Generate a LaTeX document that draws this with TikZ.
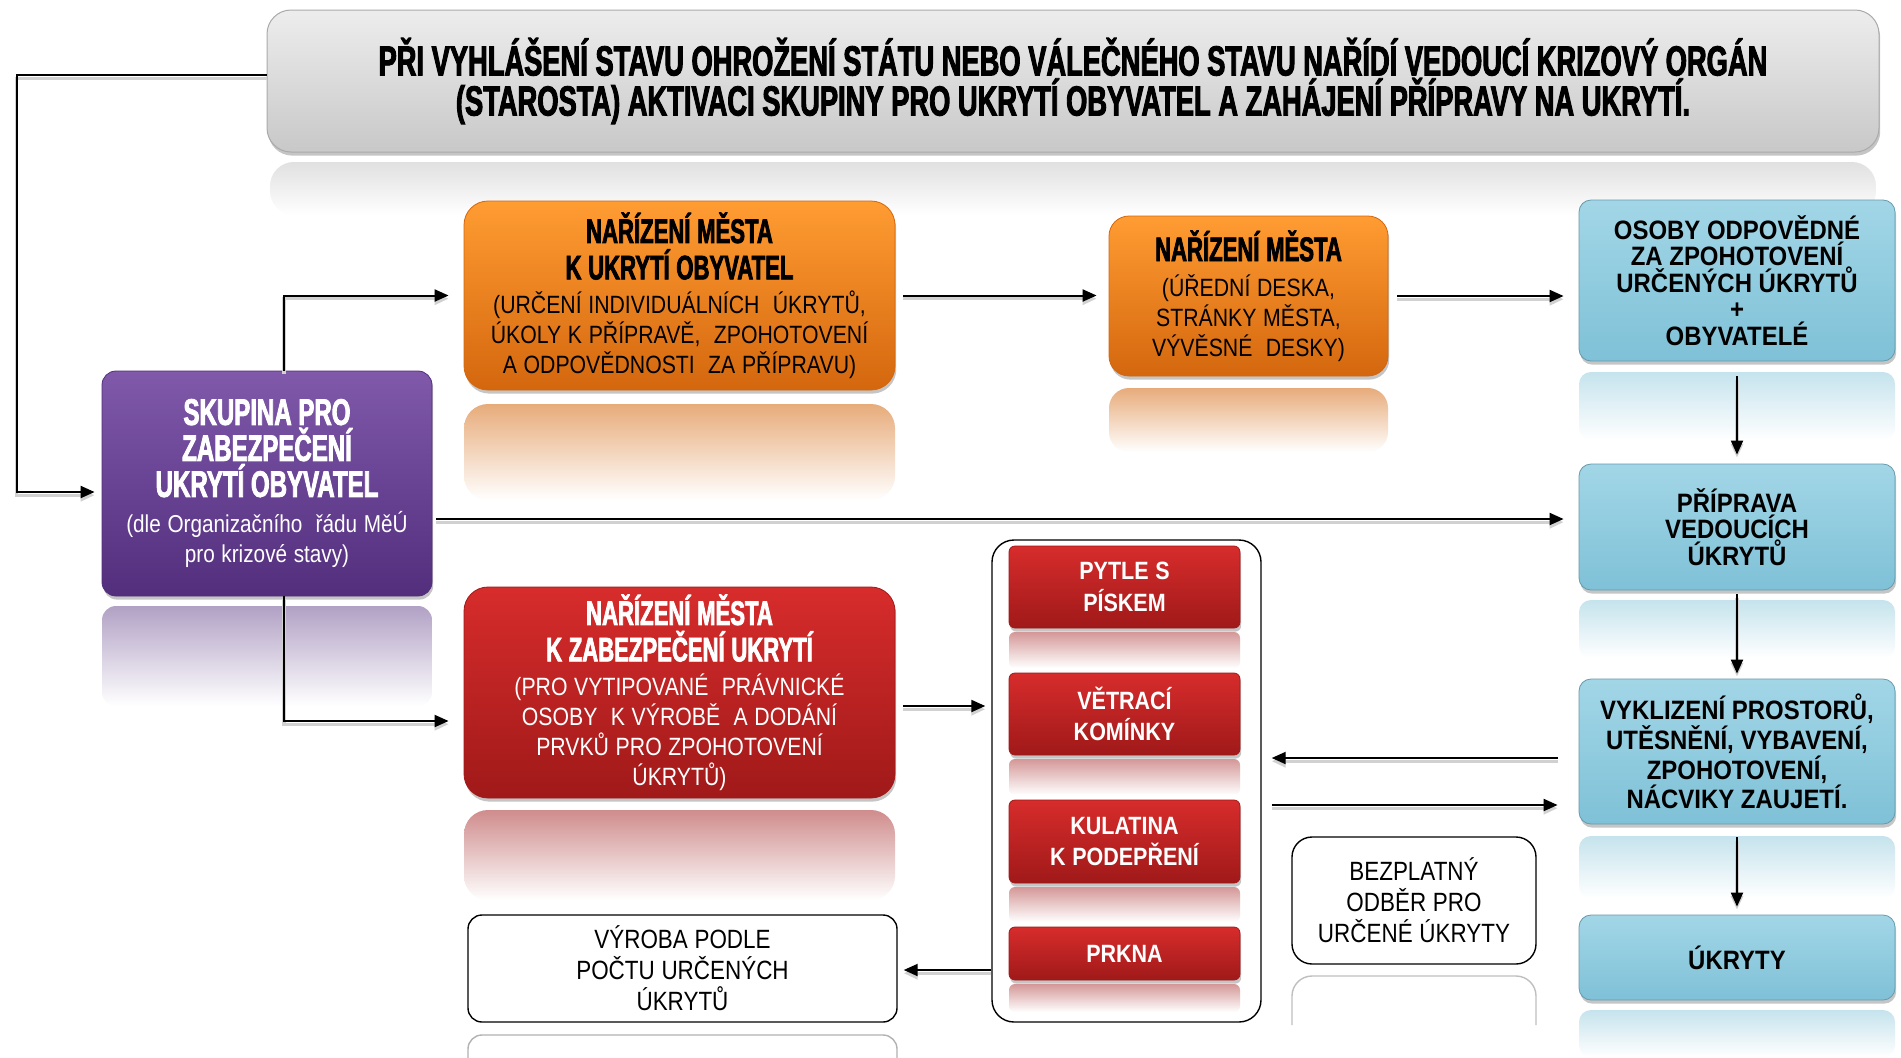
\documentclass[tikz,border=0pt]{standalone}
\usepackage{fontspec}
\setmainfont{Liberation Sans}
\usetikzlibrary{shadows,calc,arrows.meta}
\newfontfamily\heavyfont[FakeStretch=0.65,FakeBold=2.2]{Liberation Sans}
\newfontfamily\narrowfont[FakeStretch=0.85]{Liberation Sans}
\newfontfamily\bnarrowfont[FakeStretch=0.9]{Liberation Sans}
\newfontfamily\rnarrowfont[FakeStretch=0.86]{Liberation Sans}
\newcommand\HdHead{\heavyfont\bfseries\fontsize{21}{20.6}\selectfont}
\newcommand\HdBig{\heavyfont\bfseries\fontsize{18.5}{18}\selectfont}
\newcommand\HdMid{\heavyfont\bfseries\fontsize{17}{18.2}\selectfont}
\newcommand\BodyS{\narrowfont\fontsize{12.5}{15}\selectfont}
\newcommand\BodyP{\narrowfont\fontsize{12.2}{15.2}\selectfont}
\newcommand\BodyW{\narrowfont\fontsize{13.2}{15.5}\selectfont}
\newcommand\BlueT{\bnarrowfont\bfseries\fontsize{13.3}{13.2}\selectfont}
\newcommand\RedT{\rnarrowfont\bfseries\fontsize{12.5}{15.8}\selectfont}
\definecolor{hdA}{HTML}{EDEDED}
\definecolor{hdB}{HTML}{C8C8C8}
\definecolor{puA}{HTML}{8059AA}
\definecolor{puB}{HTML}{522E7D}
\definecolor{orA}{HTML}{FF9C32}
\definecolor{orB}{HTML}{D4670E}
\definecolor{blA}{HTML}{A2D6E7}
\definecolor{blB}{HTML}{7FC1D7}
\definecolor{rdA}{HTML}{D72C2C}
\definecolor{rdB}{HTML}{A01919}
\tikzset{
  every node/.style={inner sep=0pt, align=center},
  gloss/.style={drop shadow={opacity=0.45, shadow xshift=0.6pt, shadow yshift=-1.8pt}},
  hdbox/.style={gloss, rounded corners=12pt, top color=hdA, bottom color=hdB, draw=hdB!85!black, line width=0.5pt},
  pubox/.style={gloss, rounded corners=7pt, top color=puA, bottom color=puB, draw=puB, line width=0.4pt, text=white},
  orbox/.style={gloss, top color=orA, bottom color=orB, draw=orB, line width=0.4pt, text=black},
  blbox/.style={gloss, rounded corners=6pt, top color=blA, bottom color=blB, draw=blB!80!black, line width=0.4pt, text=black},
  rdbox/.style={gloss, top color=rdA, bottom color=rdB, draw=rdB, line width=0.4pt, text=white},
  wbox/.style={rounded corners=7pt, fill=white, draw=black, line width=0.7pt},
  arr/.style={draw=black, line width=1pt, -{Triangle[length=7pt,width=6pt]},
    preaction={draw=black!18, line width=1.6pt, transform canvas={yshift=-1.6pt}}},
}
\begin{document}
\begin{tikzpicture}[x=0.5pt,y=-0.5pt]
\useasboundingbox[fill=white] (0,0) rectangle (1901,1057);

% reflections
\shade[top color=black!12, bottom color=white, rounded corners=12pt] (270,162) rectangle (1876,215);
\shade[top color=puB!45!white, bottom color=white, rounded corners=7pt] (102,606) rectangle (432,706);
\shade[top color=orB!55!white, bottom color=white, rounded corners=12pt] (464,404) rectangle (895,500);
\shade[top color=orB!55!white, bottom color=white, rounded corners=10pt] (1109,388) rectangle (1388,452);
\shade[top color=rdB!50!white, bottom color=white, rounded corners=12pt] (464,810) rectangle (895,900);
\shade[top color=blB!45!white, bottom color=white, rounded corners=6pt] (1579,372) rectangle (1895,440);
\shade[top color=blB!45!white, bottom color=white, rounded corners=6pt] (1579,600) rectangle (1895,658);
\shade[top color=blB!45!white, bottom color=white, rounded corners=6pt] (1579,836) rectangle (1895,898);
\shade[top color=blB!45!white, bottom color=white, rounded corners=6pt] (1579,1010) rectangle (1895,1057);
\draw[black!30, line width=0.7pt, rounded corners=7pt] (468,1060) -- (468,1035) -- (897,1035) -- (897,1060);
\draw[black!25, line width=0.7pt, rounded corners=10pt] (1292,1025) -- (1292,976) -- (1536,976) -- (1536,1025);

% header
\node[hdbox, minimum width=806pt, minimum height=71pt] (hd) at (1073,81)
  {\HdHead PŘI VYHLÁŠENÍ STAVU OHROŽENÍ STÁTU NEBO VÁLEČNÉHO STAVU NAŘÍDÍ VEDOUCÍ KRIZOVÝ ORGÁN\\
   \HdHead (STAROSTA) AKTIVACI SKUPINY PRO UKRYTÍ OBYVATEL A ZAHÁJENÍ PŘÍPRAVY NA UKRYTÍ.};

% purple
\node[pubox, minimum width=165pt, minimum height=112.5pt, text width=160pt] (pu) at (267,483.5)
  {{\HdBig SKUPINA PRO\\ ZABEZPEČENÍ\\ UKRYTÍ OBYVATEL\par}\vskip2.6pt
   {\BodyP (dle Organizačního~ řádu MěÚ\\ pro krizové stavy)\par}};

% orange
\node[orbox, rounded corners=12pt, minimum width=215.5pt, minimum height=94.5pt, text width=212pt] (o1) at (679.5,295.5)
  {{\HdMid NAŘÍZENÍ MĚSTA\\ K UKRYTÍ OBYVATEL\par}\vskip2pt
   {\BodyS (URČENÍ INDIVIDUÁLNÍCH~ ÚKRYTŮ,\\ ÚKOLY K PŘÍPRAVĚ,~ ZPOHOTOVENÍ\\ A ODPOVĚDNOSTI~ ZA PŘÍPRAVU)\par}};
\node[orbox, rounded corners=10pt, minimum width=139.5pt, minimum height=80pt, text width=135pt] (o2) at (1248.5,296)
  {{\HdMid NAŘÍZENÍ MĚSTA\par}\vskip2.6pt
   {\BodyS (ÚŘEDNÍ DESKA,\\ STRÁNKY MĚSTA,\\ VÝVĚSNÉ~ DESKY)\par}};

% red big
\node[rdbox, rounded corners=12pt, minimum width=215.5pt, minimum height=105.5pt, text width=212pt] (rb) at (679.5,692.5)
  {{\HdMid NAŘÍZENÍ MĚSTA\\ K ZABEZPEČENÍ UKRYTÍ\par}\vskip2pt
   {\BodyS (PRO VYTIPOVANÉ~ PRÁVNICKÉ\\ OSOBY~ K VÝROBĚ~ A DODÁNÍ\\ PRVKŮ PRO ZPOHOTOVENÍ\\ ÚKRYTŮ)\par}};

% blue
\node[blbox, minimum width=158pt, minimum height=80.5pt, text width=155pt] (b1) at (1737,280.5)
  {\BlueT OSOBY ODPOVĚDNÉ\\ ZA ZPOHOTOVENÍ\\ URČENÝCH ÚKRYTŮ\\ +\\ OBYVATELÉ\par};
\node[blbox, minimum width=158pt, minimum height=63pt, text width=155pt] (b2) at (1737,527)
  {\BlueT PŘÍPRAVA\\ VEDOUCÍCH\\ ÚKRYTŮ\par};
\node[blbox, minimum width=158pt, minimum height=72.5pt, text width=155pt] (b3) at (1737,751.5)
  {\BlueT VYKLIZENÍ PROSTORŮ,\\ UTĚSNĚNÍ, VYBAVENÍ,\\ ZPOHOTOVENÍ,\\ NÁCVIKY ZAUJETÍ.\par};
\node[blbox, minimum width=158pt, minimum height=42.5pt, text width=155pt] (b4) at (1737,957.5)
  {\BlueT ÚKRYTY\par};

% white boxes
\node[wbox, minimum width=214.5pt, minimum height=53.5pt, text width=210pt] (vy) at (682.5,968.5)
  {\BodyW VÝROBA PODLE\\ POČTU URČENÝCH\\ ÚKRYTŮ\par};
\node[wbox, rounded corners=10pt, minimum width=122pt, minimum height=63.5pt, text width=118pt] (bz) at (1414,900.5)
  {\BodyW BEZPLATNÝ\\ ODBĚR PRO\\ URČENÉ ÚKRYTY\par};

% container
\node[wbox, rounded corners=11pt, minimum width=134.5pt, minimum height=241pt] (ct) at (1126.5,781) {};
\shade[top color=rdB!45!white, bottom color=white, rounded corners=3pt] (1009,632) rectangle (1240,668);
\shade[top color=rdB!45!white, bottom color=white, rounded corners=3pt] (1009,759) rectangle (1240,795);
\shade[top color=rdB!45!white, bottom color=white, rounded corners=3pt] (1009,887) rectangle (1240,922);
\shade[top color=rdB!45!white, bottom color=white, rounded corners=3pt] (1009,984) rectangle (1240,1012);
\node[rdbox, rounded corners=3pt, minimum width=115.5pt, minimum height=41pt, text width=112pt] (r1) at (1124.5,587)
  {\RedT PYTLE S\\ PÍSKEM\par};
\node[rdbox, rounded corners=3pt, minimum width=115.5pt, minimum height=41pt, text width=112pt] (r2) at (1124.5,714)
  {\RedT VĚTRACÍ\\ KOMÍNKY\par};
\node[rdbox, rounded corners=3pt, minimum width=115.5pt, minimum height=41.5pt, text width=112pt] (r3) at (1124.5,841.5)
  {\RedT KULATINA\\ K PODEPŘENÍ\par};
\node[rdbox, rounded corners=3pt, minimum width=115.5pt, minimum height=26.5pt, text width=112pt] (r4) at (1124.5,953.5)
  {\RedT PRKNA\par};

% connectors
\draw[arr, shorten >=3.5pt] ([yshift=3pt]hd.west) -- ++(-250,0) |- ([yshift=-4.25pt]pu.west);
\draw[arr, shorten >=7.5pt] ([xshift=8.5pt]pu.north) |- (o1.west);
\draw[arr, shorten >=7.5pt] ([xshift=8.5pt]pu.south) |- ([yshift=-14.25pt]rb.west);
\draw[arr, shorten <=2pt, shorten >=7.5pt] ([yshift=-17.75pt]pu.east) -- ([yshift=-17.75pt]pu.east -| b2.west);
\draw[arr, shorten <=4pt, shorten >=6pt] (o1.east) -- (o1.east -| o2.west);
\draw[arr, shorten <=4.5pt, shorten >=7.5pt] (o2.east) -- (o2.east -| b1.west);
\draw[arr, shorten <=7.5pt, shorten >=4.5pt] (b1.south) -- (b2.north);
\draw[arr, shorten <=2pt, shorten >=2.5pt] (b2.south) -- (b3.north);
\draw[arr, shorten <=6.5pt, shorten >=4pt] (b3.south) -- (b4.north);
\draw[arr, shorten <=4pt, shorten >=3pt] ([yshift=-6.75pt]rb.east) -- ([yshift=-6.75pt]rb.east -| ct.west);
\draw[arr, shorten <=10.5pt, shorten >=5pt] ([yshift=-3.25pt]b3.west) -- ([yshift=-3.25pt]b3.west -| ct.east);
\draw[arr, shorten <=5pt, shorten >=10.5pt] ([yshift=-12pt]ct.east) -- ([yshift=-12pt]ct.east -| b3.west);
\draw[arr, shorten >=3pt] ([yshift=-94.5pt]ct.west) -- ([yshift=-94.5pt]ct.west -| vy.east);
\end{tikzpicture}
\end{document}
